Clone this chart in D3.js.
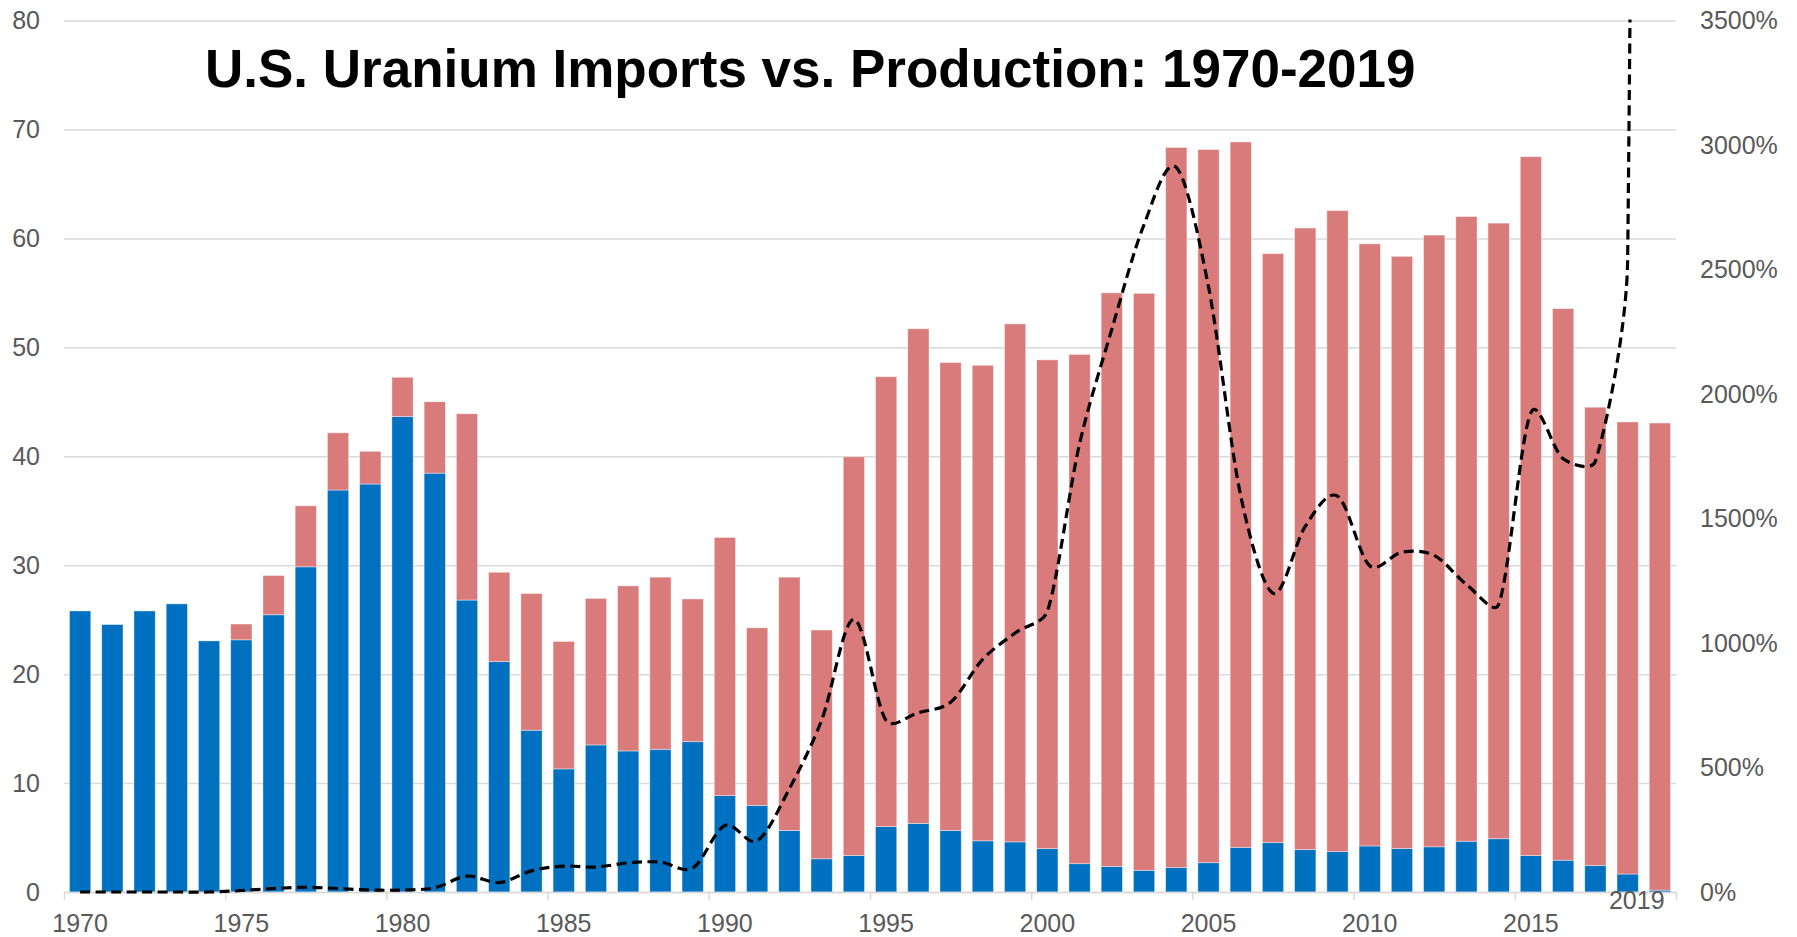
<!DOCTYPE html>
<html>
<head>
<meta charset="utf-8">
<script src="https://cdn.jsdelivr.net/npm/d3@7"></script>
<style>
  html, body { margin: 0; padding: 0; background: #fff; }
  svg { display: block; font-family: "Liberation Sans", Arial, sans-serif; }
</style>
</head>
<body>
<svg id="chart" width="1797" height="937"></svg>
<script>
// years on the category axis
const years = d3.range(1970, 2020);

// U.S. uranium production, million lb U3O8 (blue)
const production = [
    25.8, 24.55, 25.8, 26.45, 23.05, 23.15, 25.45, 29.85, 36.9, 37.45,
    43.65, 38.45, 26.8, 21.15, 14.85, 11.3, 13.5, 12.95, 13.1, 13.8,
    8.85, 7.95, 5.65, 3.05, 3.35, 6.0, 6.3, 5.65, 4.7, 4.6,
    3.98, 2.6, 2.35, 1.99, 2.25, 2.69, 4.1, 4.53, 3.9, 3.71,
    4.23, 3.99, 4.15, 4.66, 4.89, 3.34, 2.92, 2.44, 1.65, 0.17
];

// U.S. uranium imports, million lb U3O8 (red, stacked on top)
const imports = [
    0, 0, 0, 0, 0, 1.45, 3.6, 5.6, 5.25, 3.0,
    3.6, 6.55, 17.1, 8.2, 12.55, 11.7, 13.45, 15.15, 15.8, 13.1,
    23.7, 16.3, 23.25, 21.0, 36.6, 41.3, 45.4, 42.95, 43.65, 47.55,
    44.87, 46.75, 52.65, 52.96, 66.1, 65.46, 64.75, 54.07, 57.05, 58.84,
    55.27, 54.36, 56.15, 57.34, 56.51, 64.16, 50.63, 42.06, 41.5, 42.88
];

// imports as % of production (dashed line, right axis)
const importRatio = [
    0, 0, 0, 0, 0, 6, 14, 19, 14, 8,
    8, 17, 64, 38, 85, 104, 100, 117, 120, 96,
    267, 206, 415, 690, 1095, 688, 720, 762, 935, 1040,
    1127, 1800, 2260, 2680, 2910, 2430, 1590, 1200, 1468, 1590,
    1310, 1365, 1352, 1235, 1155, 1925, 1740, 1730, 2540, 25000
];

const leftTicks = [0, 10, 20, 30, 40, 50, 60, 70, 80];
const rightTicks = [0, 500, 1000, 1500, 2000, 2500, 3000, 3500];
const labelYears = [1970, 1975, 1980, 1985, 1990, 1995, 2000, 2005, 2010, 2015];
const edgeYears = [1970, 1975, 1980, 1985, 1990, 1995, 2000, 2005, 2010, 2015, 2020];

const chartTitle = 'U.S. Uranium Imports vs. Production: 1970-2019';

const colors = { production: '#0070C0', imports: '#D97B7B' };

const plot = { left: 64, right: 1676, top: 20.5, bottom: 892 };
const svg = d3.select('#chart');

const x = d3.scaleBand().domain(years).range([plot.left, plot.right])
    .paddingInner(0.34).paddingOuter(0.17);
const xEdge = d3.scaleLinear().domain([1970, 2020]).range([plot.left, plot.right]);
const y = d3.scaleLinear().domain([0, 80]).range([plot.bottom, plot.top]);
const yRight = d3.scaleLinear().domain([0, 3500]).range([plot.bottom, plot.top]);

// gridlines + left labels
const leftAxis = svg.append('g')
    .attr('transform', `translate(${plot.left},0)`)
    .call(d3.axisLeft(y).tickValues(leftTicks).tickSizeInner(-(plot.right - plot.left)).tickSizeOuter(0).tickPadding(24));
leftAxis.select('.domain').remove();
leftAxis.selectAll('line').attr('stroke', '#D9D9D9').attr('stroke-width', 1.5);
leftAxis.selectAll('text').attr('fill', '#595959').style('font-size', '25px');

const rightAxis = svg.append('g')
    .attr('transform', `translate(${plot.right},0)`)
    .call(d3.axisRight(yRight).tickValues(rightTicks).tickSize(0).tickPadding(24).tickFormat(d => d + '%'));
rightAxis.select('.domain').remove();
rightAxis.selectAll('text').attr('fill', '#595959').style('font-size', '25px');

// stacked bars
const rows = years.map((yr, i) => ({ year: yr, production: production[i], imports: imports[i] }));
const series = d3.stack().keys(['production', 'imports'])(rows);

svg.append('g').selectAll('g')
    .data(series)
    .join('g')
    .attr('fill', d => colors[d.key])
    .selectAll('rect')
    .data(d => d)
    .join('rect')
    .attr('x', d => x(d.data.year))
    .attr('width', x.bandwidth())
    .attr('y', d => y(d[1]))
    .attr('height', d => y(d[0]) - y(d[1]))
    .attr('stroke', '#fff')
    .attr('stroke-opacity', 0.5)
    .attr('stroke-width', 0.8);

// x axis line, ticks at slot edges
const xTicks = svg.append('g')
    .attr('transform', `translate(0,${plot.bottom})`)
    .call(d3.axisBottom(xEdge).tickValues(edgeYears).tickSize(8).tickSizeOuter(0).tickFormat(''));
xTicks.selectAll('line, path').attr('stroke', '#D9D9D9').attr('stroke-width', 1.5);

const xLabels = svg.append('g')
    .attr('transform', `translate(0,${plot.bottom})`)
    .call(d3.axisBottom(x).tickValues(labelYears).tickSize(0).tickPadding(22));
xLabels.select('.domain').remove();
xLabels.selectAll('text').attr('fill', '#595959').style('font-size', '25px');

svg.append('text')
    .attr('x', xEdge(2019) - 7)
    .attr('y', plot.bottom + 17)
    .attr('text-anchor', 'middle')
    .attr('fill', '#595959')
    .style('font-size', '25px')
    .text('2019');

// smoothed line like a spreadsheet: catmull-rom arms (1/6), capped at 1/3 of the segment
function smoothPath(pts) {
    const n = pts.length;
    const tangent = i => {
        const a = pts[Math.max(0, i - 1)], b = pts[Math.min(n - 1, i + 1)];
        return [(b[0] - a[0]) / 6, (b[1] - a[1]) / 6];
    };
    const capped = (t, seg) => {
        const len = Math.hypot(t[0], t[1]);
        const s = len > seg / 3 ? (seg / 3) / len : 1;
        return [t[0] * s, t[1] * s];
    };
    const path = d3.path();
    path.moveTo(pts[0][0], pts[0][1]);
    for (let i = 0; i < n - 1; i++) {
        const p0 = pts[i], p1 = pts[i + 1];
        const seg = Math.hypot(p1[0] - p0[0], p1[1] - p0[1]);
        const t0 = capped(tangent(i), seg), t1 = capped(tangent(i + 1), seg);
        path.bezierCurveTo(p0[0] + t0[0], p0[1] + t0[1], p1[0] - t1[0], p1[1] - t1[1], p1[0], p1[1]);
    }
    return path.toString();
}

// ratio line, clipped to plot area
svg.append('clipPath').attr('id', 'plotClip')
    .append('rect')
    .attr('x', plot.left).attr('y', plot.top - 1)
    .attr('width', plot.right - plot.left).attr('height', plot.bottom - plot.top + 4);

const linePts = importRatio.map((v, i) => [x(years[i]) + x.bandwidth() / 2, yRight(v)]);

svg.append('path')
    .attr('clip-path', 'url(#plotClip)')
    .attr('fill', 'none')
    .attr('stroke', '#000')
    .attr('stroke-width', 3.2)
    .attr('stroke-dasharray', '10,5.5')
    .attr('d', smoothPath(linePts));

svg.append('text')
    .attr('x', 205)
    .attr('y', 87)
    .attr('font-weight', 'bold')
    .attr('fill', '#000')
    .style('font-size', '53px')
    .text(chartTitle);
</script>
</body>
</html>
